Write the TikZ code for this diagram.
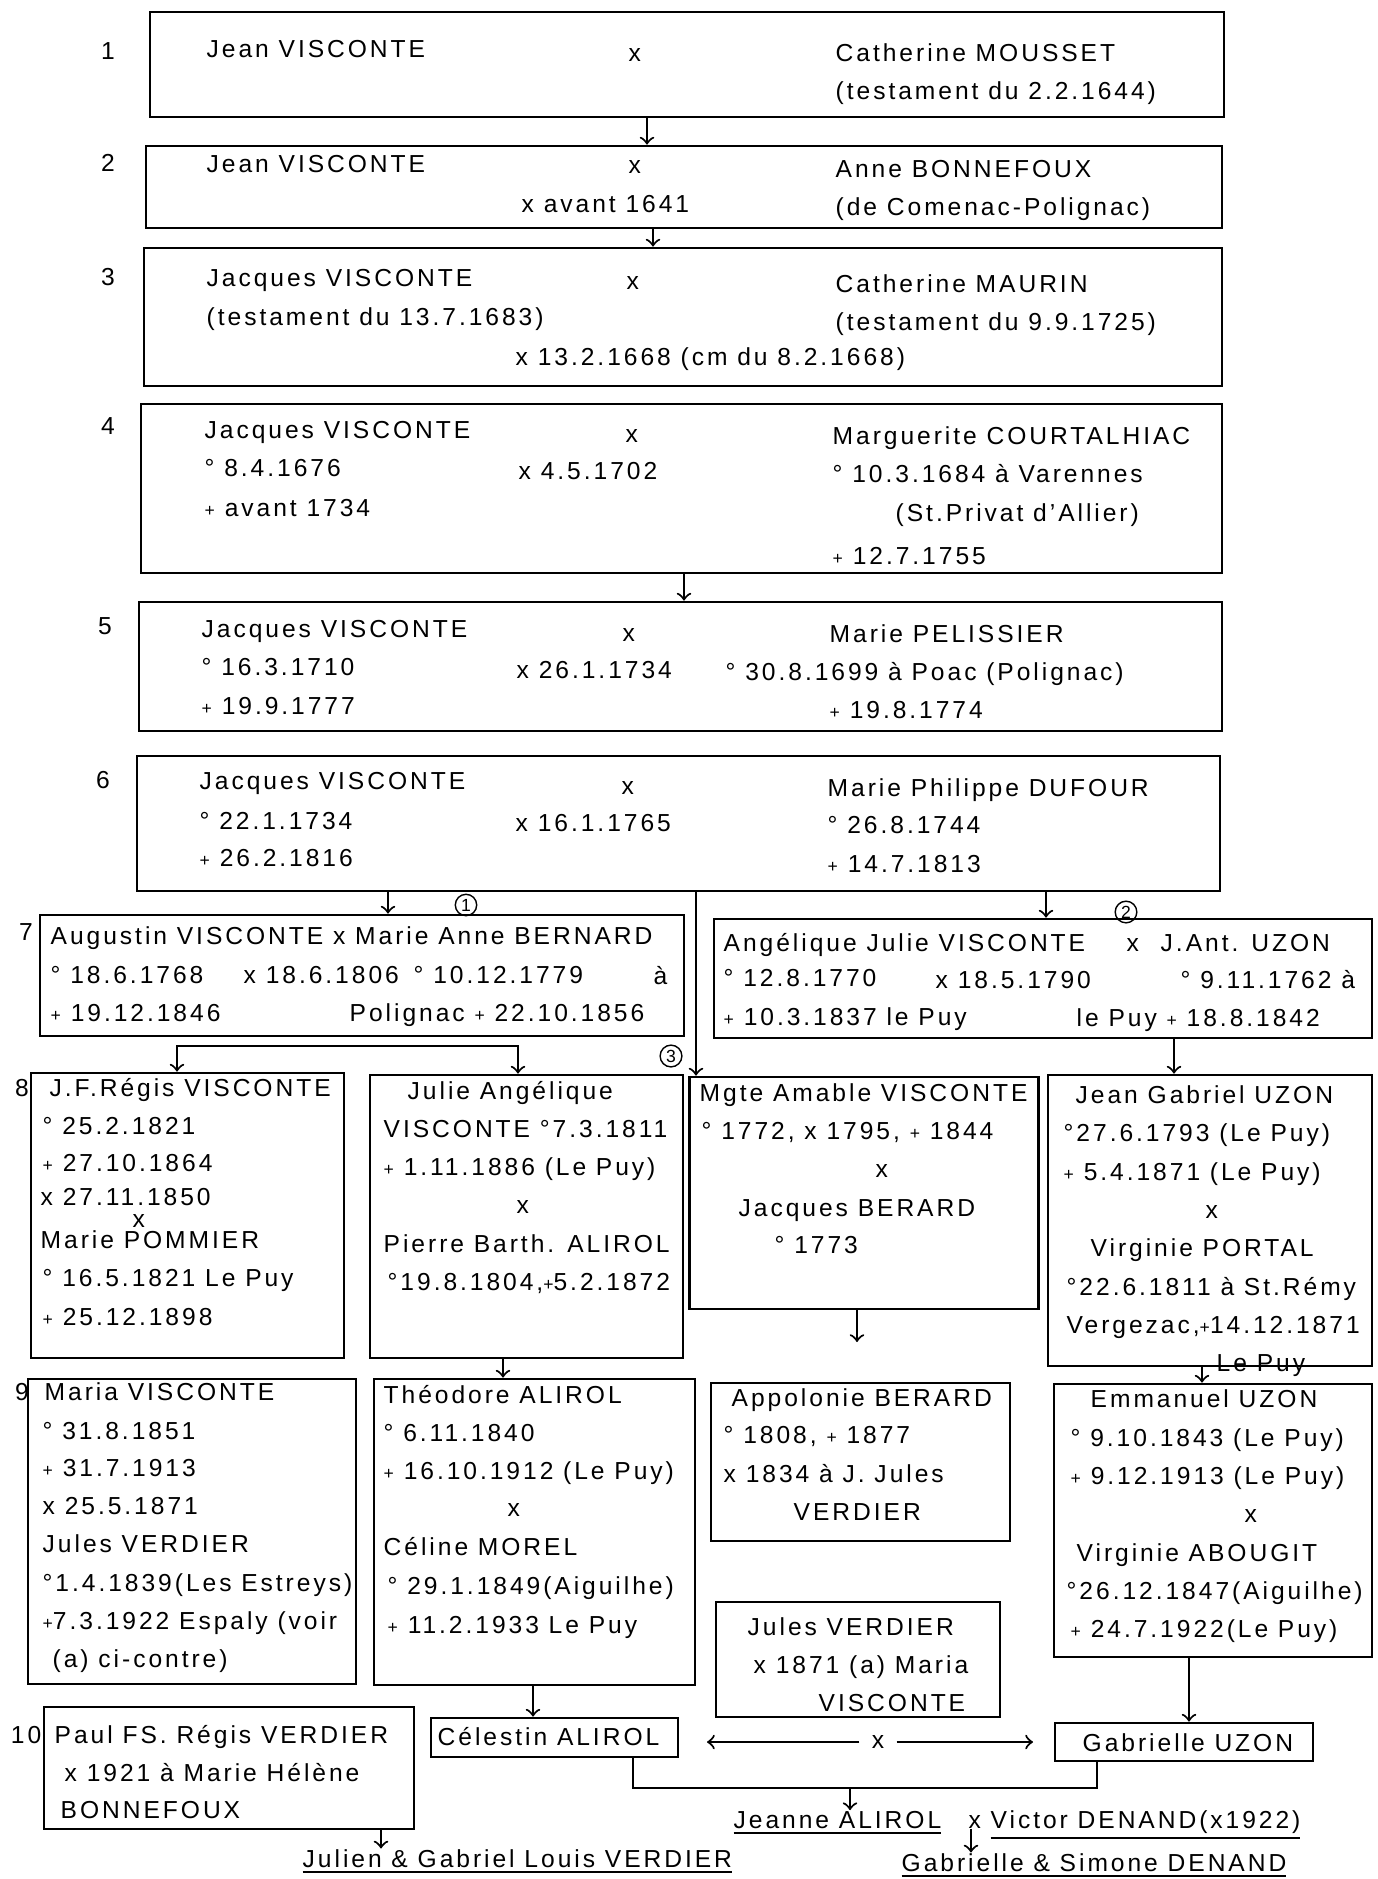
\documentclass[tikz,border=0pt]{standalone}
\usepackage{fontspec}
\setmainfont[LetterSpace=12]{Liberation Sans}
\usetikzlibrary{fit, shapes.geometric, arrows}

\newcommand{\mort}{{\fontsize{5}{5}\selectfont +}}

\tikzset{
  famille/.style={draw, thick, inner sep=0pt},
  texte/.style={anchor=base west, inner sep=0pt},
  gen/.style={anchor=base, inner sep=0pt},
  rond/.style={draw, circle, inner sep=0.6pt, font=\fontsize{5}{5}\selectfont},
  fleche/.style={semithick, ->}
}

\begin{document}
\begin{tikzpicture}[font=\fontsize{7}{8.4}\selectfont]
\useasboundingbox (0,0) rectangle (13.78,-18.79);

% Generation 1
\node[famille, fit={(1.50,-0.12) (12.24,-1.17)}] (g1) {};
\node[gen] (n1) at (1.08,-0.59) {1};
\node[texte] (t1a) at (2.06,-0.57) {Jean VISCONTE};
\node[texte] (t1x) at (6.28,-0.61) {x};
\node[texte] (t1b) at (8.35,-0.61) {Catherine MOUSSET};
\node[texte] (t1c) at (8.35,-0.99) {(testament du 2.2.1644)};

% Generation 2
\node[famille, fit={(1.46,-1.46) (12.22,-2.28)}] (g2) {};
\node[gen] (n2) at (1.08,-1.71) {2};
\node[texte] (t2a) at (2.06,-1.72) {Jean VISCONTE};
\node[texte] (t2x) at (6.28,-1.73) {x};
\node[texte] (t2b) at (8.35,-1.77) {Anne BONNEFOUX};
\node[texte] (t2c) at (5.21,-2.12) {x avant 1641};
\node[texte] (t2d) at (8.35,-2.15) {(de Comenac-Polignac)};

% Generation 3
\node[famille, fit={(1.44,-2.48) (12.22,-3.86)}] (g3) {};
\node[gen] (n3) at (1.08,-2.85) {3};
\node[texte] (t3a) at (2.06,-2.86) {Jacques VISCONTE};
\node[texte] (t3x) at (6.26,-2.89) {x};
\node[texte] (t3b) at (8.35,-2.92) {Catherine MAURIN};
\node[texte] (t3c) at (2.06,-3.25) {(testament du 13.7.1683)};
\node[texte] (t3d) at (8.35,-3.30) {(testament du 9.9.1725)};
\node[texte] (t3e) at (5.15,-3.65) {x 13.2.1668 (cm du 8.2.1668)};

% Generation 4
\node[famille, fit={(1.41,-4.04) (12.22,-5.73)}] (g4) {};
\node[gen] (n4) at (1.08,-4.34) {4};
\node[texte] (t4a) at (2.04,-4.38) {Jacques VISCONTE};
\node[texte] (t4x) at (6.25,-4.42) {x};
\node[texte] (t4b) at (8.32,-4.44) {Marguerite COURTALHIAC};
\node[texte] (t4c) at (2.04,-4.76) {° 8.4.1676};
\node[texte] (t4d) at (5.18,-4.79) {x 4.5.1702};
\node[texte] (t4e) at (8.32,-4.82) {° 10.3.1684 à Varennes};
\node[texte] (t4f) at (2.04,-5.16) {\mort{} avant 1734};
\node[texte] (t4g) at (8.95,-5.21) {(St.Privat d'Allier)};
\node[texte] (t4h) at (8.32,-5.64) {\mort{} 12.7.1755};

% Generation 5
\node[famille, fit={(1.39,-6.02) (12.22,-7.31)}] (g5) {};
\node[gen] (n5) at (1.05,-6.34) {5};
\node[texte] (t5a) at (2.01,-6.37) {Jacques VISCONTE};
\node[texte] (t5x) at (6.22,-6.41) {x};
\node[texte] (t5b) at (8.29,-6.42) {Marie PELISSIER};
\node[texte] (t5c) at (2.01,-6.75) {° 16.3.1710};
\node[texte] (t5d) at (5.16,-6.78) {x 26.1.1734};
\node[texte] (t5e) at (7.25,-6.80) {° 30.8.1699 à Poac (Polignac)};
\node[texte] (t5f) at (2.01,-7.14) {\mort{} 19.9.1777};
\node[texte] (t5g) at (8.29,-7.18) {\mort{} 19.8.1774};

% Generation 6
\node[famille, fit={(1.37,-7.56) (12.20,-8.91)}] (g6) {};
\node[gen] (n6) at (1.03,-7.88) {6};
\node[texte] (t6a) at (1.99,-7.89) {Jacques VISCONTE};
\node[texte] (t6x) at (6.21,-7.94) {x};
\node[texte] (t6b) at (8.27,-7.96) {Marie Philippe DUFOUR};
\node[texte] (t6c) at (1.99,-8.29) {° 22.1.1734};
\node[texte] (t6d) at (5.15,-8.31) {x 16.1.1765};
\node[texte] (t6e) at (8.27,-8.33) {° 26.8.1744};
\node[texte] (t6f) at (1.99,-8.66) {\mort{} 26.2.1816};
\node[texte] (t6g) at (8.27,-8.72) {\mort{} 14.7.1813};

% Generation 7
\node[famille, fit={(0.40,-9.15) (6.84,-10.36)}] (a7) {};
\node[gen] (n7) at (0.26,-9.40) {7};
\node[texte] (t7a) at (0.50,-9.44) {Augustin VISCONTE x Marie Anne BERNARD};
\node[texte] (t7b) at (0.50,-9.83) {° 18.6.1768};
\node[texte] (t7c) at (2.43,-9.83) {x 18.6.1806};
\node[texte] (t7d) at (4.13,-9.83) {° 10.12.1779};
\node[texte] (t7e) at (6.53,-9.84) {à};
\node[texte] (t7f) at (0.50,-10.21) {\mort{} 19.12.1846};
\node[texte] (t7g) at (3.49,-10.21) {Polignac \mort{} 22.10.1856};

\node[famille, fit={(7.14,-9.19) (13.72,-10.38)}] (u7) {};
\node[texte] (u7a) at (7.23,-9.51) {Angélique Julie VISCONTE};
\node[texte] (u7x) at (11.26,-9.51) {x};
\node[texte] (u7b) at (11.60,-9.51) {J.Ant. UZON};
\node[texte] (u7c) at (7.23,-9.86) {° 12.8.1770};
\node[texte] (u7d) at (9.35,-9.88) {x 18.5.1790};
\node[texte] (u7e) at (11.80,-9.88) {° 9.11.1762 à};
\node[texte] (u7f) at (7.23,-10.25) {\mort{} 10.3.1837 le Puy};
\node[texte] (u7g) at (10.76,-10.26) {le Puy \mort{} 18.8.1842};

\node[rond] (o1) at (4.66,-9.05) {1};
\node[rond] (o2) at (11.26,-9.12) {2};
\node[rond] (o3) at (6.71,-10.56) {3};

% Generation 8
\node[famille, fit={(0.31,-10.73) (3.44,-13.58)}] (r8) {};
\node[gen] (n8) at (0.22,-10.96) {8};
\node[texte] (r8a) at (0.49,-10.96) {J.F.Régis VISCONTE};
\node[texte] (r8b) at (0.42,-11.34) {° 25.2.1821};
\node[texte] (r8c) at (0.42,-11.71) {\mort{} 27.10.1864};
\node[texte] (r8d) at (0.40,-12.05) {x 27.11.1850};
\node[texte] (r8x) at (1.32,-12.27) {x};
\node[texte] (r8e) at (0.40,-12.48) {Marie POMMIER};
\node[texte] (r8f) at (0.42,-12.86) {° 16.5.1821 Le Puy};
\node[texte] (r8g) at (0.42,-13.25) {\mort{} 25.12.1898};

\node[famille, fit={(3.70,-10.75) (6.83,-13.58)}] (j8) {};
\node[texte] (j8a) at (4.07,-10.99) {Julie Angélique};
\node[texte] (j8b) at (3.83,-11.37) {VISCONTE °7.3.1811};
\node[texte] (j8c) at (3.83,-11.75) {\mort{} 1.11.1886 (Le Puy)};
\node[texte] (j8x) at (5.16,-12.13) {x};
\node[texte] (j8d) at (3.83,-12.52) {Pierre Barth. ALIROL};
\node[texte] (j8e) at (3.87,-12.90) {°19.8.1804,\mort5.2.1872};

\node[draw, thick, trapezium, trapezium angle=80, shape border rotate=180,
  trapezium stretches body, minimum width=3.49cm, minimum height=2.32cm,
  inner sep=0pt] (m8) at (8.64,-11.93) {};
\node[texte] (m8a) at (6.99,-11.01) {Mgte Amable VISCONTE};
\node[texte] (m8b) at (7.01,-11.39) {° 1772, x 1795, \mort{} 1844};
\node[texte] (m8x) at (8.75,-11.77) {x};
\node[texte] (m8c) at (7.38,-12.16) {Jacques BERARD};
\node[texte] (m8d) at (7.74,-12.53) {° 1773};

\node[famille, fit={(10.48,-10.75) (13.72,-13.66)}] (g8) {};
\node[texte] (g8a) at (10.75,-11.03) {Jean Gabriel UZON};
\node[texte] (g8b) at (10.63,-11.41) {°27.6.1793 (Le Puy)};
\node[texte] (g8c) at (10.63,-11.80) {\mort{} 5.4.1871 (Le Puy)};
\node[texte] (g8x) at (12.05,-12.18) {x};
\node[texte] (g8d) at (10.90,-12.56) {Virginie PORTAL};
\node[texte] (g8e) at (10.66,-12.95) {°22.6.1811 à St.Rémy};
\node[texte] (g8f) at (10.66,-13.33) {Vergezac,\mort14.12.1871};
\node[texte] (g8g) at (12.16,-13.71) {Le Puy};

% Generation 9
\node[famille, fit={(0.28,-13.79) (3.56,-16.84)}] (v9) {};
\node[gen] (n9) at (0.22,-14.00) {9};
\node[texte] (v9a) at (0.44,-14.00) {Maria VISCONTE};
\node[texte] (v9b) at (0.42,-14.39) {° 31.8.1851};
\node[texte] (v9c) at (0.42,-14.76) {\mort{} 31.7.1913};
\node[texte] (v9d) at (0.42,-15.14) {x 25.5.1871};
\node[texte] (v9e) at (0.42,-15.52) {Jules VERDIER};
\node[texte] (v9f) at (0.42,-15.91) {°1.4.1839(Les Estreys)};
\node[texte] (v9g) at (0.42,-16.29) {\mort7.3.1922 Espaly (voir};
\node[texte] (v9h) at (0.52,-16.67) {(a) ci-contre)};

\node[famille, fit={(3.74,-13.79) (6.95,-16.85)}] (t9) {};
\node[texte] (th9a) at (3.83,-14.03) {Théodore ALIROL};
\node[texte] (th9b) at (3.83,-14.41) {° 6.11.1840};
\node[texte] (th9c) at (3.83,-14.79) {\mort{} 16.10.1912 (Le Puy)};
\node[texte] (th9x) at (5.07,-15.16) {x};
\node[texte] (th9d) at (3.83,-15.55) {Céline MOREL};
\node[texte] (th9e) at (3.87,-15.94) {° 29.1.1849(Aiguilhe)};
\node[texte] (th9f) at (3.87,-16.33) {\mort{} 11.2.1933 Le Puy};

\node[famille, fit={(7.11,-13.83) (10.10,-15.41)}] (a9) {};
\node[texte] (a9a) at (7.31,-14.06) {Appolonie BERARD};
\node[texte] (a9b) at (7.23,-14.43) {° 1808, \mort{} 1877};
\node[texte] (a9c) at (7.23,-14.82) {x 1834 à J. Jules};
\node[texte] (a9d) at (7.93,-15.20) {VERDIER};

\node[famille, fit={(10.54,-13.84) (13.72,-16.57)}] (e9) {};
\node[texte] (e9a) at (10.90,-14.07) {Emmanuel UZON};
\node[texte] (e9b) at (10.70,-14.46) {° 9.10.1843 (Le Puy)};
\node[texte] (e9c) at (10.70,-14.84) {\mort{} 9.12.1913 (Le Puy)};
\node[texte] (e9x) at (12.44,-15.22) {x};
\node[texte] (e9d) at (10.76,-15.61) {Virginie ABOUGIT};
\node[texte] (e9e) at (10.66,-15.99) {°26.12.1847(Aiguilhe)};
\node[texte] (e9f) at (10.70,-16.37) {\mort{} 24.7.1922(Le Puy)};

\node[famille, fit={(7.16,-16.02) (10.00,-17.17)}] (jv) {};
\node[texte] (jva) at (7.47,-16.35) {Jules VERDIER};
\node[texte] (jvb) at (7.53,-16.73) {x 1871 (a) Maria};
\node[texte] (jvc) at (8.18,-17.11) {VISCONTE};

% Generation 10
\node[famille, fit={(0.44,-17.07) (4.14,-18.29)}] (p10) {};
\node[anchor=base east, inner sep=0pt] (n10) at (0.42,-17.43) {10};
\node[texte] (p10a) at (0.54,-17.43) {Paul FS. Régis VERDIER};
\node[texte] (p10b) at (0.64,-17.81) {x 1921 à Marie Hélène};
\node[texte] (p10c) at (0.60,-18.18) {BONNEFOUX};

\node[famille, fit={(4.31,-17.18) (6.78,-17.57)}] (c10) {};
\node[texte] (c10a) at (4.37,-17.45) {Célestin ALIROL};

\node[famille, fit={(10.55,-17.23) (13.13,-17.61)}] (g10) {};
\node[texte] (g10a) at (10.82,-17.51) {Gabrielle UZON};

\node (xm) at (8.78,-17.42) {x};

\node[texte] (julien) at (3.02,-18.67) {\underline{Julien \& Gabriel Louis VERDIER}};
\node[texte] (jeanne) at (7.33,-18.28) {\underline{Jeanne ALIROL}};
\node[texte] (jx) at (9.68,-18.28) {x};
\node[texte] (victor) at (9.90,-18.28) {\underline{Victor DENAND(x1922)}};
\node[texte] (gabs) at (9.01,-18.71) {\underline{Gabrielle \& Simone DENAND}};

% Descent arrows
\coordinate (k12) at (6.47,0);
\draw[fleche] (g1.south -| k12) -- (g2.north -| k12);
\coordinate (k23) at (6.53,0);
\draw[fleche] (g2.south -| k23) -- (g3.north -| k23);
\coordinate (k45) at (6.84,0);
\draw[fleche] (g4.south -| k45) -- (g5.north -| k45);

\coordinate (k6a) at (3.88,0);
\draw[fleche] (g6.south -| k6a) -- (a7.north -| k6a);
\coordinate (k6b) at (10.46,0);
\draw[fleche] (g6.south -| k6b) -- (u7.north -| k6b);
\coordinate (k6c) at (6.96,0);
\draw[fleche] (g6.south -| k6c) -- (m8.north -| k6c);

\coordinate (b7a) at (1.77,-10.46);
\coordinate (b7b) at (5.18,-10.46);
\draw[semithick, <->] (r8.north -| b7a) -- (b7a) -- (b7b) -- (j8.north -| b7b);

\coordinate (k7) at (11.74,0);
\draw[fleche] (u7.south -| k7) -- (g8.north -| k7);
\coordinate (k8a) at (5.03,0);
\draw[fleche] (j8.south -| k8a) -- (t9.north -| k8a);
\coordinate (k8b) at (8.57,-13.42);
\draw[fleche] (m8.south -| k8b) -- (k8b);
\coordinate (k8c) at (12.02,0);
\draw[fleche] (g8.south -| k8c) -- (e9.north -| k8c);

\coordinate (k9a) at (5.33,0);
\draw[fleche] (t9.south -| k9a) -- (c10.north -| k9a);
\coordinate (k9b) at (11.89,0);
\draw[fleche] (e9.south -| k9b) -- (g10.north -| k9b);
\coordinate (k10) at (3.81,0);
\draw[fleche] (p10.south -| k10) -- (julien.north -| k10);

% Marriage of the last generation
\coordinate (dl) at (7.07,-17.42);
\coordinate (dr) at (10.33,-17.42);
\draw[fleche] (xm.west) -- (dl);
\draw[fleche] (xm.east) -- (dr);

\coordinate (b10a) at (6.33,-17.88);
\coordinate (b10b) at (10.97,-17.88);
\draw[semithick] (c10.south -| b10a) -- (b10a) -- (b10b) -- (g10.south -| b10b);
\coordinate (k10b) at (8.50,-17.88);
\draw[fleche] (k10b) -- (jeanne.north -| k10b);
\coordinate (k10c) at (9.71,0);
\draw[fleche] (jx.south -| k10c) -- (gabs.north -| k10c);

\end{tikzpicture}
\end{document}
